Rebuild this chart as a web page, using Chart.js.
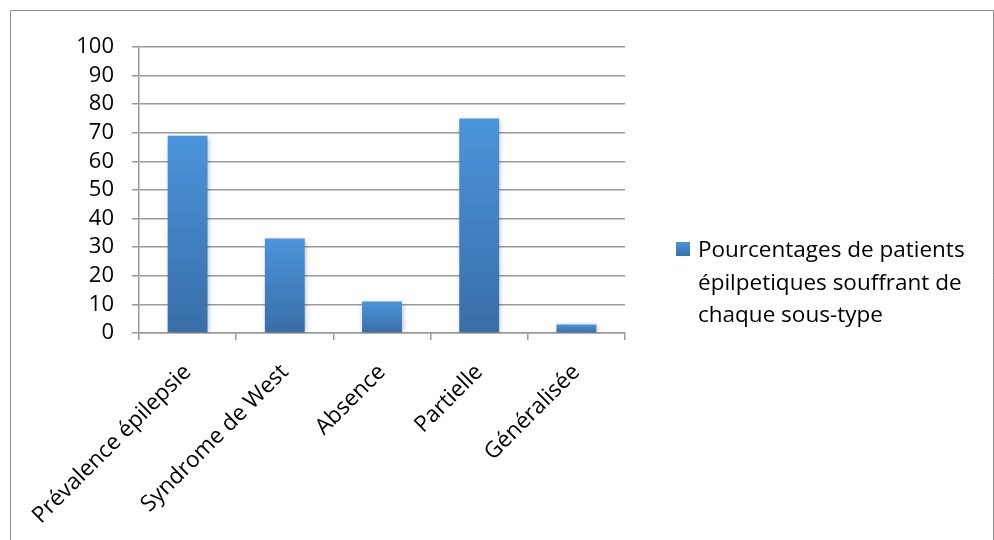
<!DOCTYPE html>
<html>
<head>
<meta charset="utf-8">
<script src="https://cdn.jsdelivr.net/npm/chart.js@4/dist/chart.umd.min.js"></script>
<style>
  html, body { margin: 0; padding: 0; background: #ffffff; }
  #wrap { width: 994px; height: 540px; position: relative; }
</style>
</head>
<body>
<div id="wrap"><canvas id="chart" width="994" height="540"></canvas></div>
<script>
// Epilepsy sub-types and the share of epileptic patients affected (%)
const categories = ['Prévalence épilepsie', 'Syndrome de West', 'Absence', 'Partielle', 'Généralisée'];
const seriesValues = [69, 33, 11, 75, 3];
const seriesLabelLines = ['Pourcentages de patients', 'épilpetiques souffrant de', 'chaque sous-type'];
const yTickValues = [0, 10, 20, 30, 40, 50, 60, 70, 80, 90, 100];

const FONT = '"Open Sans", "Liberation Sans", sans-serif';
const GRID = '#9a9a9a';
const BAR_TOP = '#4b94db';
const BAR_BOTTOM = '#386ea8';

// Vertical gradient spanning each bar from its top to its base
function barGradient(ctx) {
  const chart = ctx.chart;
  if (!chart.chartArea || ctx.type !== 'data') return BAR_TOP;
  const y = chart.scales.y;
  const top = y.getPixelForValue(ctx.parsed.y);
  const base = y.getPixelForValue(0);
  const g = chart.ctx.createLinearGradient(0, top, 0, base);
  g.addColorStop(0, BAR_TOP);
  g.addColorStop(1, BAR_BOTTOM);
  return g;
}

// Soft shadow under the bars
const barShadow = {
  id: 'barShadow',
  beforeDatasetsDraw(chart) {
    const c = chart.ctx;
    c.save();
    c.shadowColor = 'rgba(0,0,0,0.28)';
    c.shadowBlur = 5;
    c.shadowOffsetX = 1;
    c.shadowOffsetY = 1;
  },
  afterDatasetsDraw(chart) {
    chart.ctx.restore();
  }
};

// Outer frame and the multi-line legend on the right
const frameAndLegend = {
  id: 'frameAndLegend',
  afterDraw(chart) {
    const c = chart.ctx;
    const area = chart.chartArea;
    c.save();
    c.strokeStyle = '#8e8e8e';
    c.lineWidth = 1;
    c.beginPath();
    c.moveTo(10.5, 540);
    c.lineTo(10.5, 10.5);
    c.lineTo(993.5, 10.5);
    c.lineTo(993.5, 540);
    c.stroke();

    const sx = area.right + 51;
    const sy = area.top + 195;
    const sg = c.createLinearGradient(0, sy, 0, sy + 14);
    sg.addColorStop(0, BAR_TOP);
    sg.addColorStop(1, BAR_BOTTOM);
    c.fillStyle = sg;
    c.fillRect(sx, sy, 14, 14);

    c.fillStyle = '#000000';
    c.font = '22.5px ' + FONT;
    c.textAlign = 'left';
    c.textBaseline = 'alphabetic';
    seriesLabelLines.forEach((line, i) => {
      c.fillText(line, sx + 22, sy + 15 + i * 32.5);
    });
    c.restore();
  }
};

new Chart(document.getElementById('chart'), {
  type: 'bar',
  data: {
    labels: categories,
    datasets: [{
      label: seriesLabelLines.join(' '),
      data: seriesValues,
      backgroundColor: barGradient,
      borderWidth: 0,
      barPercentage: 0.41,
      categoryPercentage: 1.0
    }]
  },
  options: {
    responsive: false,
    animation: false,
    layout: { padding: { left: 0, top: 47, right: 369, bottom: 0 } },
    plugins: {
      legend: { display: false },
      tooltip: { enabled: false }
    },
    scales: {
      x: {
        offset: true,
        grid: {
          display: true,
          offset: true,
          drawOnChartArea: false,
          drawTicks: true,
          tickLength: 7,
          color: GRID,
          lineWidth: 1.5
        },
        border: { display: true, color: GRID, width: 1.5 },
        ticks: {
          minRotation: 45,
          maxRotation: 45,
          autoSkip: false,
          color: '#000000',
          padding: 19,
          font: { family: FONT, size: 22.5 }
        },
        afterFit(scale) { scale.height = 207; }
      },
      y: {
        min: 0,
        max: 100,
        afterBuildTicks(scale) { scale.ticks = yTickValues.map(v => ({ value: v })); },
        grid: {
          color: GRID,
          lineWidth: 1.5,
          tickLength: 7,
          drawTicks: true
        },
        border: { display: true, color: GRID, width: 1.5 },
        ticks: {
          autoSkip: false,
          color: '#000000',
          padding: 18,
          font: { family: FONT, size: 22 }
        },
        afterFit(scale) { scale.width = 139; }
      }
    }
  },
  plugins: [barShadow, frameAndLegend]
});
</script>
</body>
</html>
